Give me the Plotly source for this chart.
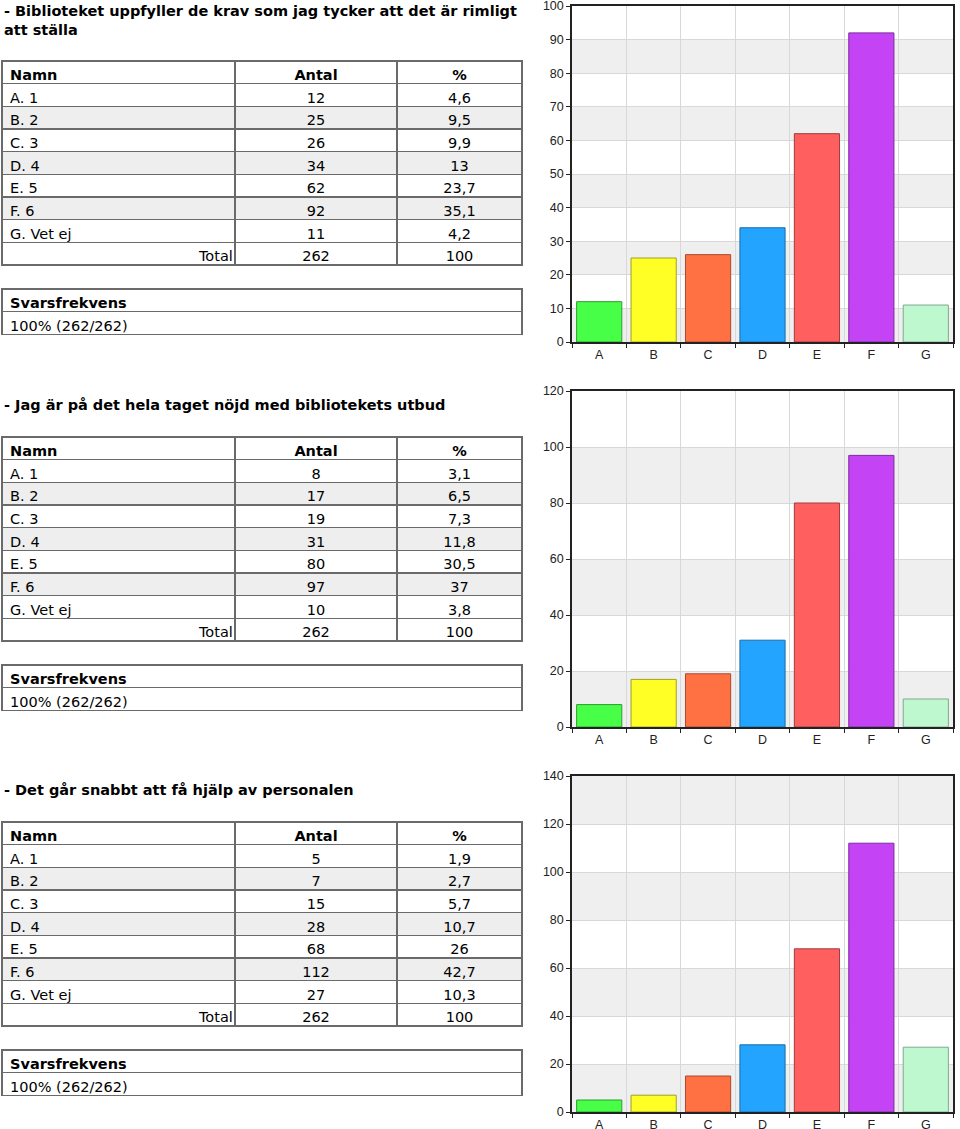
import plotly.graph_objects as go

names = ["A. 1", "B. 2", "C. 3", "D. 4", "E. 5", "F. 6", "G. Vet ej"]
letters = ["A", "B", "C", "D", "E", "F", "G"]

titles = [
    "- Biblioteket uppfyller de krav som jag tycker att det är rimligt<br>att ställa",
    "- Jag är på det hela taget nöjd med bibliotekets utbud",
    "- Det går snabbt att få hjälp av personalen",
]
q1_antal = [12, 25, 26, 34, 62, 92, 11]
q1_pct = ["4,6", "9,5", "9,9", "13", "23,7", "35,1", "4,2"]
q2_antal = [8, 17, 19, 31, 80, 97, 10]
q2_pct = ["3,1", "6,5", "7,3", "11,8", "30,5", "37", "3,8"]
q3_antal = [5, 7, 15, 28, 68, 112, 27]
q3_pct = ["1,9", "2,7", "5,7", "10,7", "26", "42,7", "10,3"]
total_antal = [262, 262, 262]
total_pct = ["100", "100", "100"]
svarsfrekvens = ["100% (262/262)", "100% (262/262)", "100% (262/262)"]
y_max = [100, 120, 140]
y_step = [10, 20, 20]

bar_colors = ["#47ff47", "#ffff26", "#ff7043", "#22a4ff", "#ff5f5f", "#c444f5", "#bdf8cf"]
bar_lines = ["#2f9a2f", "#a0a020", "#a84a30", "#1a6ea8", "#a03c3c", "#7e2aa0", "#80a890"]

W, H = 960, 1129


def px_y(p):
    return 1 - p / H


def px_x(p):
    return p / W


antals = [q1_antal, q2_antal, q3_antal]
pcts = [q1_pct, q2_pct, q3_pct]

# pixel positions per section
title_top = [1, 395, 780]
table_top = [61, 437, 822]
svar_top = [289, 665, 1050]
chart_top = [6, 391, 776]
chart_bottom = [342, 727, 1112]

row_h = 22.67
font_tab = dict(family="DejaVu Sans", size=14.5, color="black")
font_head = dict(family="DejaVu Sans", size=14.5, color="black", weight="bold")
total_label = "\u00a0" * 41 + "Total"
grid_line = dict(color="#6a6a6a", width=1.5)

fig = go.Figure()
annotations = []
shapes = []

for i in range(3):
    # main table
    col_names = names + [total_label]
    col_antal = [str(v) for v in antals[i]] + [str(total_antal[i])]
    col_pct = pcts[i] + [total_pct[i]]
    fills = ["white" if r % 2 == 0 else "#eeeeee" for r in range(7)] + ["white"]
    fig.add_trace(go.Table(
        domain=dict(x=[px_x(2), px_x(522)], y=[px_y(table_top[i] + 9 * row_h + 4), px_y(table_top[i])]),
        columnwidth=[233, 162, 125],
        header=dict(values=["Namn", "Antal", "%"], height=row_h,
                    align=["left", "center", "center"], font=font_head,
                    fill_color="white", line=grid_line),
        cells=dict(values=[col_names, col_antal, col_pct], height=row_h,
                   align=["left", "center", "center"], font=font_tab,
                   fill_color=[fills, fills, fills], line=grid_line),
    ))
    # response rate table
    fig.add_trace(go.Table(
        domain=dict(x=[px_x(2), px_x(522)], y=[px_y(svar_top[i] + 2 * row_h + 4), px_y(svar_top[i])]),
        header=dict(values=["Svarsfrekvens"], height=row_h, align="left", font=font_head,
                    fill_color="white", line=grid_line),
        cells=dict(values=[[svarsfrekvens[i]]], height=row_h, align="left", font=font_tab,
                   fill_color="white", line=grid_line),
    ))
    annotations.append(dict(
        text="<b>" + titles[i] + "</b>", xref="paper", yref="paper",
        x=px_x(2), y=px_y(title_top[i]), xanchor="left", yanchor="top", align="left",
        showarrow=False, font=dict(family="DejaVu Sans", size=14.5, color="black"),
    ))

    # bar chart
    n = i + 1
    xa = "x" if n == 1 else "x%d" % n
    ya = "y" if n == 1 else "y%d" % n
    fig.add_trace(go.Bar(
        x=letters, y=antals[i], xaxis=xa, yaxis=ya, width=0.83,
        marker=dict(color=bar_colors, line=dict(color=bar_lines, width=1)),
        showlegend=False, hoverinfo="x+y",
    ))
    # alternating background bands
    v = 0
    k = 0
    while v < y_max[i]:
        if k % 2 == 0:
            shapes.append(dict(type="rect", xref=xa + " domain", yref=ya, x0=0, x1=1,
                               y0=v, y1=v + y_step[i], fillcolor="#efefef",
                               line=dict(width=0), layer="below"))
        v += y_step[i]
        k += 1

    axis_common = dict(showline=True, linecolor="#222222", linewidth=1.5, mirror=True,
                       ticks="outside", tickcolor="#222222", ticklen=4, automargin=False,
                       ticklabeloverflow="allow",
                       showgrid=True, gridcolor="#d8d8d8", gridwidth=1,
                       tickfont=dict(family="Liberation Sans", size=12.5, color="#222222"))
    fig.update_layout(**{
        ("xaxis" if n == 1 else "xaxis%d" % n): dict(
            domain=[px_x(572), px_x(953)], anchor=ya, tickson="boundaries",
            range=[-0.5, 6.5], **axis_common),
        ("yaxis" if n == 1 else "yaxis%d" % n): dict(
            domain=[px_y(chart_bottom[i]), px_y(chart_top[i])], anchor=xa,
            range=[0, y_max[i]], dtick=y_step[i], zeroline=False, **axis_common),
    })

fig.update_layout(
    width=W, height=H, margin=dict(l=0, r=0, t=0, b=0),
    paper_bgcolor="white", plot_bgcolor="white",
    annotations=annotations, shapes=shapes, bargap=0.17,
)

# the page's default body margin would shift the figure by 8px
fig.write_html("out.html", config={"displayModeBar": False},
               post_script="document.body.style.margin='0';document.body.style.overflow='hidden';")
